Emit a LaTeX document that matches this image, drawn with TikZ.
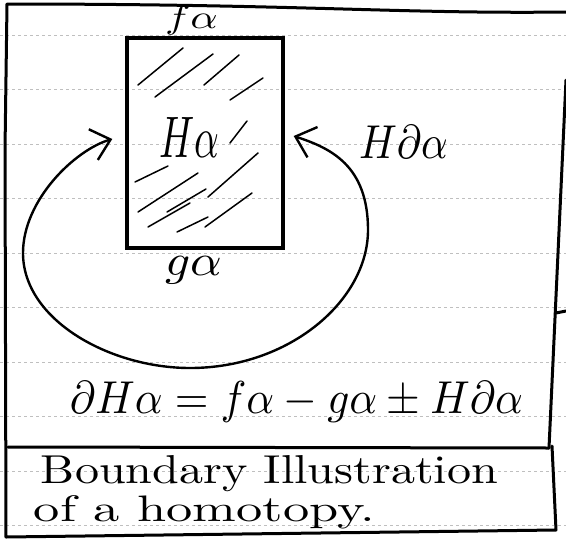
\documentclass[tikz,border=0pt]{standalone}
\usepackage{graphicx}
\usetikzlibrary{arrows.meta}
\tikzset{
  frame/.style={line width=3pt, line cap=round, line join=round},
  ruled/.style={gray!50, line width=0.6pt, dash pattern=on 3pt off 3pt},
  hatch/.style={line width=1.5pt, line cap=round},
  boxline/.style={draw, line width=3.4pt, minimum width=156pt, minimum height=210pt, inner sep=0pt},
  loopline/.style={line width=2.4pt, line cap=round,
    {Straight Barb[length=18pt,width=32pt,line width=2.4pt]}-{Straight Barb[length=18pt,width=32pt,line width=2.4pt]}},
  lbl/.style={inner sep=0pt, outer sep=0pt},
}
\begin{document}
\begin{tikzpicture}[x=1pt,y=-1pt]
\useasboundingbox (0,0) rectangle (566,539);
% ruled paper lines
\foreach \yy in {35,89.5,144,198.5,253,307.5,362,416.5,471,525.5}
  \draw[ruled] (0,\yy) -- (566,\yy);
% frame
\draw[frame] (566,12) .. controls (400,14) and (300,4) .. (7,4) -- (5,150) -- (6,537) -- (556,530) -- (552,446);
\draw[frame] (566,80) -- (549,448);
\draw[frame] (8,447) -- (549,448);
\draw[frame] (556,313) -- (566,311);
% rectangle
\node[boxline] (box) at (205,143) {};
% hatching
\draw[hatch] (138,85)--(183,48) (155,97)--(213,54) (204,85)--(239,55) (230,100)--(263,78)
  (230,143)--(247,121) (135,182)--(168,166) (138,212)--(198,173) (167,212)--(206,189)
  (208,197)--(258,153) (148,227)--(190,203) (177,232)--(208,217) (205,227)--(252,193);
% labels
\node[lbl, anchor=base west] (fa) at (165,28) {\resizebox{53pt}{23pt}{$f\alpha$}};
\node[lbl, anchor=base west] (ha) at (159,157) {\resizebox{60pt}{40pt}{$H\alpha$}};
\node[lbl, anchor=base west] (hda) at (359,158) {\resizebox{89pt}{33pt}{$H\partial\alpha$}};
\node[lbl, anchor=base west] (ga) at (165,275) {\resizebox{57pt}{19pt}{$g\alpha$}};
\node[lbl, anchor=base west] (eq) at (70,413) {\resizebox{453pt}{32pt}{$\partial H\alpha=f\alpha-g\alpha\pm H\partial\alpha$}};
\node[lbl, anchor=base west] (cap1) at (41,483) {\resizebox{457pt}{28pt}{Boundary Illustration}};
\node[lbl, anchor=base west] (cap2) at (34,521) {\resizebox{341pt}{26pt}{of a homotopy.}};
% loop connector
\coordinate (lt) at ([xshift=-13pt,yshift=4pt]box.west);
\coordinate (rt) at ([xshift=9pt,yshift=7pt]box.east);
\draw[loopline] (lt) .. controls (75,150) and (23,200) .. (23,253)
  .. controls (23,320) and (110,368) .. (190,368)
  .. controls (290,368) and (368,300) .. (368,230)
  .. controls (368,165) and (330,148) .. (rt);
\end{tikzpicture}
\end{document}
